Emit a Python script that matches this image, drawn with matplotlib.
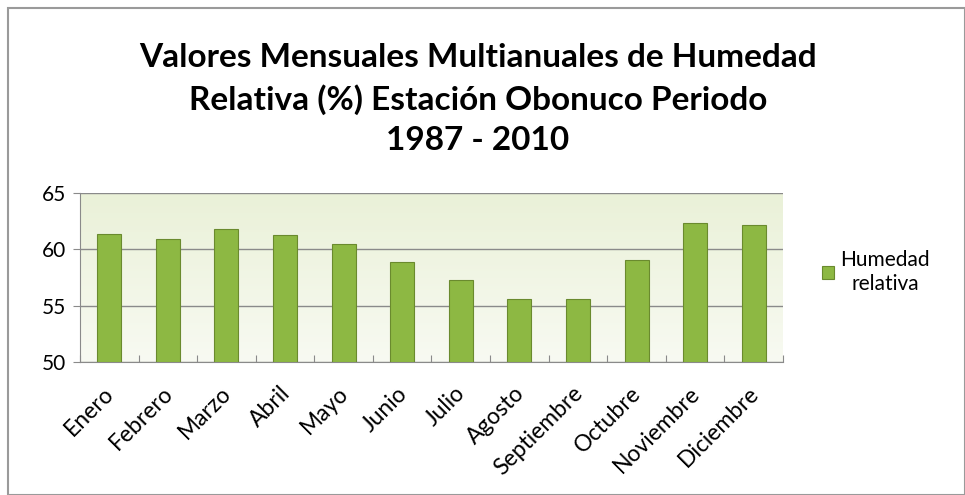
import numpy as np
import matplotlib.pyplot as plt
import matplotlib.transforms as mtransforms
from matplotlib.patches import Rectangle

meses = ['Enero', 'Febrero', 'Marzo', 'Abril', 'Mayo', 'Junio', 'Julio',
         'Agosto', 'Septiembre', 'Octubre', 'Noviembre', 'Diciembre']
humedad = [61.4, 60.9, 61.8, 61.3, 60.45, 58.9, 57.3, 55.6, 55.6, 59.05, 62.3, 62.15]
yticks = [50, 55, 60, 65]

plt.rcParams['font.family'] = ['Lato', 'DejaVu Sans']

fig = plt.figure(figsize=(9.65, 4.95), dpi=100)
fig.patch.set_facecolor('white')
# marco exterior
fig.add_artist(Rectangle((8/965, 0), 1 - 8/965, 1 - 8/495, transform=fig.transFigure,
                         fill=False, edgecolor='#9a9a9a', linewidth=1.5))

ax = fig.add_axes([80/965, 1 - 362/495, (783 - 80)/965, (362 - 193)/495])
# fondo verde claro en degradado
grad = np.linspace(0, 1, 100).reshape(-1, 1)
ax.imshow(grad, extent=[-0.5, 11.5, 50, 65], aspect='auto', origin='lower',
          cmap=plt.matplotlib.colors.LinearSegmentedColormap.from_list('g', ['#f8faf2', '#eaf1d8']),
          zorder=0)

x = np.arange(len(meses))
ax.bar(x, np.array(humedad) - 50, bottom=50, width=0.41, color='#8db843',
       edgecolor='#6a8a2e', linewidth=0.8, zorder=3, label='Humedad\nrelativa')

ax.set_xlim(-0.5, 11.5)
ax.set_ylim(50, 65)
ax.set_yticks(yticks)
ax.yaxis.grid(True, color='#8a8a8a', linewidth=1, zorder=1)
ax.set_axisbelow(True)
for s in ['top', 'right']:
    ax.spines[s].set_visible(False)
ax.spines['left'].set_color('#8a8a8a')
ax.spines['bottom'].set_color('#8a8a8a')
ax.set_xticks(np.arange(-0.5, 12, 1), minor=False)
ax.set_xticklabels([])
ax.set_xticks(x, minor=True)
ax.set_xticklabels(meses, minor=True, rotation=45, ha='right', rotation_mode='anchor',
                   fontsize=16.5)
ax.tick_params(axis='x', which='minor', length=0, pad=15)
ax.tick_params(axis='x', which='major', length=5, color='#8a8a8a', direction='in')
ax.tick_params(axis='y', labelsize=15, length=5, color='#8a8a8a', pad=5)
desplaz = mtransforms.ScaledTranslation(-6/100, 0, fig.dpi_scale_trans)
for lbl in ax.get_xticklabels(minor=True):
    lbl.set_transform(lbl.get_transform() + desplaz)

fig.text(478/965, 1 - 99/495,
         'Valores Mensuales Multianuales de Humedad\nRelativa (%) Estación Obonuco Periodo\n1987 - 2010',
         ha='center', va='center', fontsize=24, fontweight='bold', linespacing=1.45)

leg = fig.legend(loc='center left', bbox_to_anchor=(803/965, 1 - 272/495), frameon=False,
                 fontsize=15, handlelength=0.6, handleheight=0.6, handletextpad=0.3)
for t in leg.get_texts():
    t.set_multialignment('center')

fig.savefig('out.png', dpi=100)
